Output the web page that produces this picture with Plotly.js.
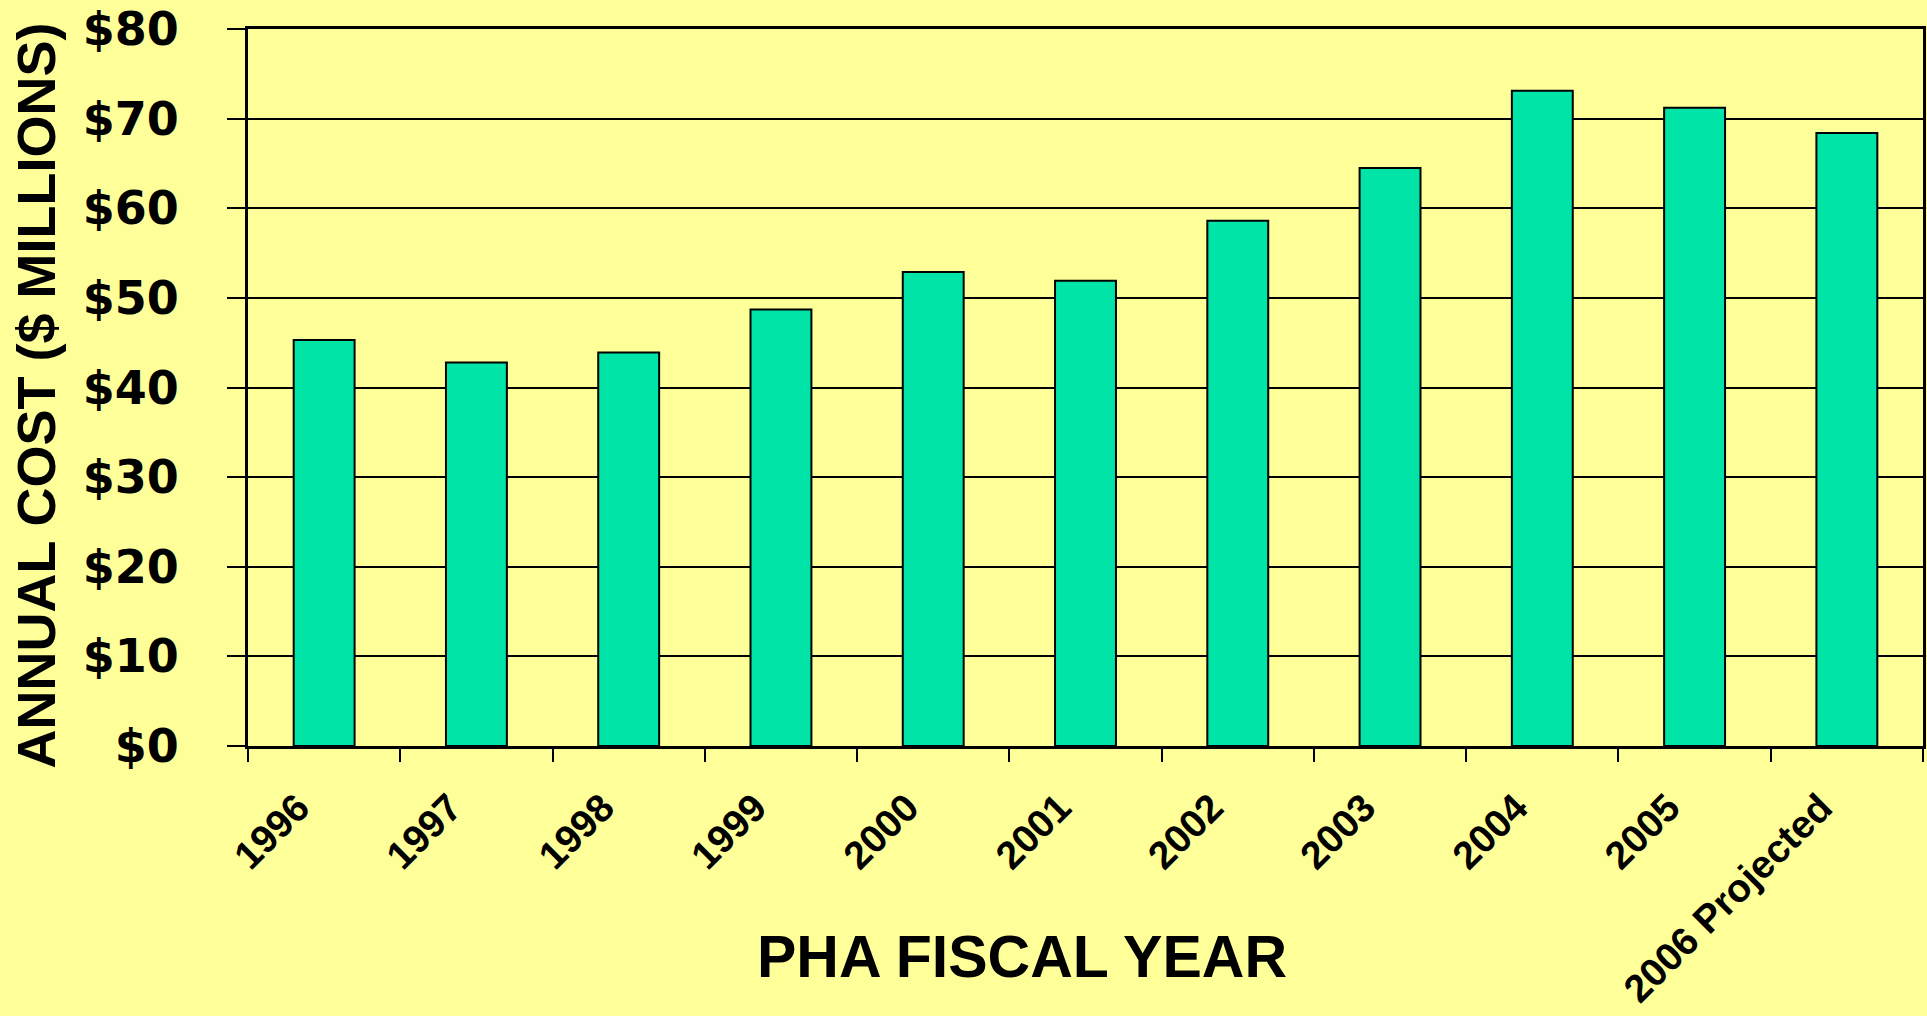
<!DOCTYPE html>
<html>
<head>
<meta charset="utf-8">
<script src="https://cdn.plot.ly/plotly-3.0.1.min.js"></script>
<style>
  html, body { margin: 0; padding: 0; background: #ffff99; }
  #chart { width: 1927px; height: 1016px; }
</style>
</head>
<body>
<div id="chart"></div>
<script>
// PHA annual cost by fiscal year, $ millions
const years = ['1996', '1997', '1998', '1999', '2000', '2001', '2002', '2003', '2004', '2005', '2006 Projected'];
const costs = [45.3, 42.8, 43.9, 48.7, 52.9, 51.9, 58.6, 64.5, 73.1, 71.2, 68.4];

const xTitle = 'PHA FISCAL YEAR';
const yTitle = 'ANNUAL COST ($ MILLIONS)';

const font = 'Liberation Sans, Arial, sans-serif';
const wideFont = 'DejaVu Sans, Verdana, sans-serif';

let bars = {
    type: 'bar',
    x: years,
    y: costs,
    marker: {
        color: '#00e4a7',
        line: { color: '#000', width: 2 }
    },
    hoverinfo: 'x+y'
};

let layout = {
    width: 1927,
    height: 1016,
    margin: { l: 248, r: 4, t: 29, b: 270 },
    paper_bgcolor: '#ffff99',
    plot_bgcolor: '#ffff99',
    showlegend: false,
    bargap: 0.6,
    font: { family: font, color: '#000' },
    xaxis: {
        type: 'category',
        tickson: 'boundaries',
        ticks: 'outside',
        ticklen: 13,
        tickwidth: 2,
        tickcolor: '#000',
        tickangle: -45,
        tickfont: { family: font, size: 39, weight: 'bold' },
        showline: true,
        linecolor: '#000',
        linewidth: 3,
        mirror: true,
        showgrid: false,
        ticklabelstandoff: 20,
        ticklabelshift: -26
    },
    yaxis: {
        range: [0, 80],
        dtick: 10,
        tickprefix: '$',
        ticks: 'outside',
        ticklen: 18,
        tickwidth: 2,
        tickcolor: '#000',
        tickfont: { family: wideFont, size: 46, weight: 'bold' },
        ticklabelstandoff: 39,
        showline: true,
        linecolor: '#000',
        linewidth: 3,
        mirror: true,
        showgrid: true,
        gridcolor: '#000',
        gridwidth: 2,
        zeroline: false
    },
    annotations: [
        {
            text: xTitle,
            xref: 'paper', yref: 'paper',
            x: 0, y: 0,
            xanchor: 'center', yanchor: 'middle',
            xshift: 1022 - 248,
            yshift: -(957 - 746),
            showarrow: false,
            font: { family: font, size: 59, weight: 'bold' }
        },
        {
            text: yTitle,
            textangle: -90,
            xref: 'paper', yref: 'paper',
            x: 0, y: 0.5,
            xanchor: 'center', yanchor: 'middle',
            xshift: 35 - 248,
            yshift: -8,
            showarrow: false,
            font: { family: font, size: 54, weight: 'bold' }
        }
    ]
};

Plotly.newPlot('chart', [bars], layout, { displayModeBar: false, staticPlot: true });
</script>
</body>
</html>
